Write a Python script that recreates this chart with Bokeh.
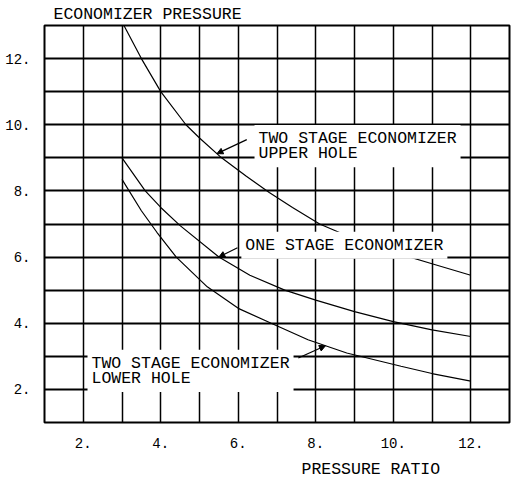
import numpy as np
from bokeh.plotting import figure
from bokeh.models import FixedTicker, Label, Arrow, NormalHead, Range1d, Title
from bokeh.embed import file_html
from bokeh.resources import INLINE

# ---- data ----
upper_x = [3.05, 3.5, 4.0, 4.65, 5.0, 5.57, 6.2, 6.8, 7.4, 8.1, 8.9, 10.0, 11.0, 12.0]
upper_y = [13.0, 12.0, 11.0, 10.0, 9.6, 9.0, 8.45, 7.95, 7.5, 7.0, 6.6, 6.15, 5.8, 5.45]

one_x = [3.0, 3.6, 4.0, 4.5, 5.5, 6.3, 7.2, 8.0, 9.0, 10.0, 11.0, 12.0]
one_y = [9.0, 8.0, 7.5, 6.95, 6.0, 5.45, 5.0, 4.7, 4.35, 4.05, 3.8, 3.6]

lower_x = [3.0, 3.5, 3.9, 4.4, 5.2, 6.0, 6.85, 7.8, 8.8, 10.2, 11.0, 12.0]
lower_y = [8.35, 7.4, 6.75, 6.0, 5.1, 4.45, 4.0, 3.5, 3.1, 2.7, 2.48, 2.25]

x_tick_values = [2, 4, 6, 8, 10, 12]
x_tick_labels = ["2.", "4.", "6.", "8.", "10.", "12."]
y_tick_values = [2, 4, 6, 8, 10, 12]
y_tick_labels = ["2.", "4.", "6.", "8.", "10.", "12."]
grid_x = list(range(1, 14))
grid_y = list(range(1, 14))

y_title = "ECONOMIZER PRESSURE"
x_title = "PRESSURE RATIO"
label_upper = "TWO STAGE ECONOMIZER\nUPPER HOLE"
label_one = "ONE STAGE ECONOMIZER"
label_lower = "TWO STAGE ECONOMIZER\nLOWER HOLE"

FONT = "Liberation Mono"

p = figure(width=511, height=485, x_range=Range1d(1, 13), y_range=Range1d(1, 13),
           output_backend="svg", toolbar_location=None, title=None,
           min_border_left=44, min_border_right=2, min_border_top=25, min_border_bottom=61)
p.background_fill_color = "white"
p.border_fill_color = "white"
p.outline_line_color = "black"
p.outline_line_width = 2

for ax, vals, labs in ((p.xaxis, x_tick_values, x_tick_labels), (p.yaxis, y_tick_values, y_tick_labels)):
    ax.ticker = FixedTicker(ticks=vals)
    ax.major_label_overrides = {v: l for v, l in zip(vals, labs)}
    ax.axis_line_color = None
    ax.major_tick_line_color = None
    ax.minor_tick_line_color = None
    ax.major_label_text_font = FONT
    ax.major_label_text_font_size = "14px"
    ax.major_label_text_color = "black"
p.xaxis.major_label_standoff = 9
p.yaxis.major_label_standoff = 8

p.xgrid.ticker = FixedTicker(ticks=grid_x)
p.ygrid.ticker = FixedTicker(ticks=grid_y)
p.xgrid.grid_line_color = "black"
p.xgrid.grid_line_width = 1.5
p.ygrid.grid_line_color = "black"
p.ygrid.grid_line_width = 2

for xs, ys in ((upper_x, upper_y), (one_x, one_y), (lower_x, lower_y)):
    p.line(xs, ys, line_color="black", line_width=1.2)

def add_label(x, y, text, baseline="top"):
    p.add_layout(Label(x=x, y=y, text=text, text_font=FONT, text_font_size="16.5px",
                       text_color="black", text_baseline=baseline, text_align="left",
                       text_line_height=0.8, background_fill_color="white", padding=4))

add_label(6.42, 9.99, label_upper)
add_label(6.08, 6.36, label_one, baseline="middle")
add_label(2.11, 3.2, label_lower)

def add_arrow(xs, ys, x0, y0, xt):
    yt = float(np.interp(xt, xs, ys))
    p.add_layout(Arrow(end=NormalHead(size=6, fill_color="black", line_color="black"),
                       x_start=x0, y_start=y0, x_end=xt, y_end=yt,
                       line_color="black", line_width=1.2))

add_arrow(upper_x, upper_y, 6.22, 9.55, 5.45)
add_arrow(one_x, one_y, 5.98, 6.28, 5.5)
add_arrow(lower_x, lower_y, 7.55, 2.95, 8.25)

# axis titles
p.add_layout(Title(text=y_title, align="left", offset=9, standoff=4,
                   text_font=FONT, text_font_size="16.5px", text_font_style="normal",
                   text_color="black"), "above")
p.add_layout(Title(text=x_title, align="left", offset=257, standoff=14,
                   text_font=FONT, text_font_size="16.5px", text_font_style="normal",
                   text_color="black"), "below")

open("out.html", "w").write(file_html(p, INLINE))
